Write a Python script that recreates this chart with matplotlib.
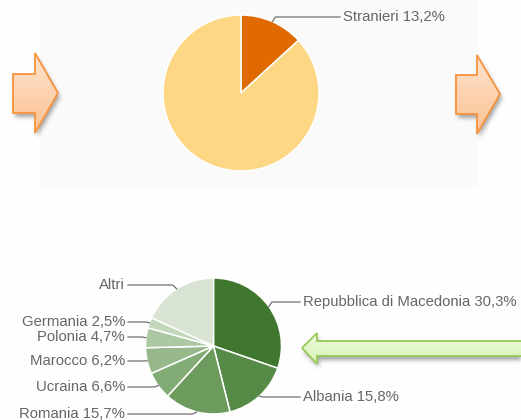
import numpy as np
import matplotlib
matplotlib.use("Agg")
import matplotlib.pyplot as plt
from matplotlib.patches import Polygon, Rectangle
from matplotlib.path import Path

plt.rcParams["font.family"] = ["Liberation Sans", "DejaVu Sans"]

W, H = 521, 420

# Share of foreign residents in the total population
top_labels = ["Stranieri", "Italiani"]
top_values = [13.2, 86.8]
top_colors = ["#e06900", "#fed784"]
top_show = [True, False]

# Foreign residents by citizenship
nat_labels = ["Repubblica di Macedonia", "Albania", "Romania", "Ucraina",
              "Marocco", "Polonia", "Germania", "Altri"]
nat_values = [30.3, 15.8, 15.7, 6.6, 6.2, 4.7, 2.5, 18.2]
nat_colors = ["#40772f", "#568a47", "#6c9b5d", "#83ab76",
              "#96b88b", "#abc8a2", "#c3d7bb", "#d9e4d5"]
nat_show_pct = [True, True, True, True, True, True, True, False]

TEXT = "#666666"
LINE = "#707070"
FS = 10.7


def Y(py):
    """Screen row (from top) to data y."""
    return H - py


def fmt(label, v, show):
    return f"{label} {v:.1f}%".replace(".", ",") if show else label


def mid_anchor(values, i, cx, cy, r):
    """Edge point at the middle angle of wedge i (clockwise from 12 o'clock)."""
    tot = sum(values)
    start = sum(values[:i]) / tot
    th = 2 * np.pi * (start + values[i] / tot / 2)
    return cx + r * np.sin(th), cy - r * np.cos(th)


def gaussian_blur(a, s):
    k = np.arange(-int(3 * s), int(3 * s) + 1)
    g = np.exp(-k ** 2 / (2 * s * s))
    g /= g.sum()
    a = np.apply_along_axis(lambda m: np.convolve(m, g, mode="same"), 0, a)
    a = np.apply_along_axis(lambda m: np.convolve(m, g, mode="same"), 1, a)
    return a


xs = np.arange(W) + 0.5
ys = np.arange(H) + 0.5
GX, GY = np.meshgrid(xs, ys)
PTS = np.column_stack([GX.ravel(), GY.ravel()])


def draw_arrow(ax, verts, c_top, c_bot, edge, shadow=(2, 4), sh_alpha=0.5):
    verts = np.asarray(verts, float)
    # soft drop shadow
    sh = verts + np.array(shadow)
    mask = Path(sh).contains_points(PTS).reshape(H, W).astype(float)
    mask = gaussian_blur(mask, 2.2)
    rgba = np.zeros((H, W, 4))
    rgba[..., :3] = 0.3
    rgba[..., 3] = mask * sh_alpha
    ax.imshow(rgba, extent=(0, W, 0, H), origin="upper", zorder=2,
              interpolation="bilinear")
    # vertical gradient fill
    dverts = np.column_stack([verts[:, 0], Y(verts[:, 1])])
    poly = Polygon(dverts, closed=True, facecolor="none", edgecolor=edge,
                   linewidth=1.3, joinstyle="miter", zorder=4)
    x0, x1 = dverts[:, 0].min(), dverts[:, 0].max()
    y0, y1 = dverts[:, 1].min(), dverts[:, 1].max()
    t = np.linspace(0, 1, 64)[:, None]
    ct = np.array(matplotlib.colors.to_rgb(c_top))
    cb = np.array(matplotlib.colors.to_rgb(c_bot))
    grad = (ct * (1 - t) + cb * t)[:, None, :]
    im = ax.imshow(grad, extent=(x0, x1, y0, y1), origin="upper",
                   aspect="auto", interpolation="bilinear", zorder=3)
    clip = Polygon(dverts, closed=True, transform=ax.transData)
    im.set_clip_path(clip)
    ax.add_patch(poly)


fig = plt.figure(figsize=(W / 100, H / 100), dpi=100)
fig.patch.set_facecolor("#fefefe")
ax = fig.add_axes([0, 0, 1, 1])

# light panel behind the upper chart
ax.add_patch(Rectangle((40, Y(187)), 438, 187, facecolor="#fafafa",
                       edgecolor="none", zorder=0))

# upper pie
tcx, tcy, tr = 241, 93, 78
ax.pie(top_values, colors=top_colors, radius=tr, center=(tcx, Y(tcy)),
       startangle=90, counterclock=False,
       wedgeprops=dict(edgecolor="white", linewidth=1.1))
for i, (lab, v, show) in enumerate(zip(top_labels, top_values, top_show)):
    if not show:
        continue
    axp, ayp = mid_anchor(top_values, i, tcx, tcy, tr)
    ty = 17
    ax.plot([axp, axp + 3, 340], [Y(ayp), Y(ty), Y(ty)], color=LINE, lw=0.9,
            zorder=5)
    ax.text(343, Y(ty), fmt(lab, v, True), ha="left", va="center",
            fontsize=FS, color=TEXT, zorder=5)

# lower pie
bcx, bcy, br = 213.5, 346, 68
ax.pie(nat_values, colors=nat_colors, radius=br, center=(bcx, Y(bcy)),
       startangle=90, counterclock=False,
       wedgeprops=dict(edgecolor="white", linewidth=1.1))

label_y = [302, 397, 414, 387, 361, 337, 322, 285]
label_side = ["R", "R", "L", "L", "L", "L", "L", "L"]
for i, lab in enumerate(nat_labels):
    axp, ayp = mid_anchor(nat_values, i, bcx, bcy, br)
    ty = label_y[i]
    txt = fmt(lab, nat_values[i], nat_show_pct[i])
    if label_side[i] == "R":
        ax.plot([axp, axp + 3, 300], [Y(ayp), Y(ty), Y(ty)], color=LINE,
                lw=0.9, zorder=5)
        ax.text(303, Y(ty), txt, ha="left", va="center", fontsize=FS,
                color=TEXT, zorder=5)
    else:
        ax.plot([axp, axp - 4, 128], [Y(ayp), Y(ty), Y(ty)], color=LINE,
                lw=0.9, zorder=5)
        ax.text(125, Y(ty), txt, ha="right", va="center", fontsize=FS,
                color=TEXT, zorder=5)

# orange arrows pointing right
left_arrow = [(13, 74), (35, 74), (35, 53), (58, 93), (35, 133), (35, 113), (13, 113)]
right_arrow = [(456, 75), (477, 75), (477, 55), (500, 94), (477, 134), (477, 114), (456, 114)]
for v in (left_arrow, right_arrow):
    draw_arrow(ax, v, "#fee3cd", "#fcc293", "#f7933d")

# green arrow pointing left
green_arrow = [(302, 348), (317, 333), (317, 341), (535, 341), (535, 356),
               (317, 356), (317, 364)]
draw_arrow(ax, green_arrow, "#eefbdc", "#d7f2b3", "#98c95a", shadow=(2, 4))

ax.set_xlim(0, W)
ax.set_ylim(0, H)
ax.set_aspect("equal")
ax.axis("off")

fig.savefig("out.png", dpi=100, facecolor=fig.get_facecolor())
